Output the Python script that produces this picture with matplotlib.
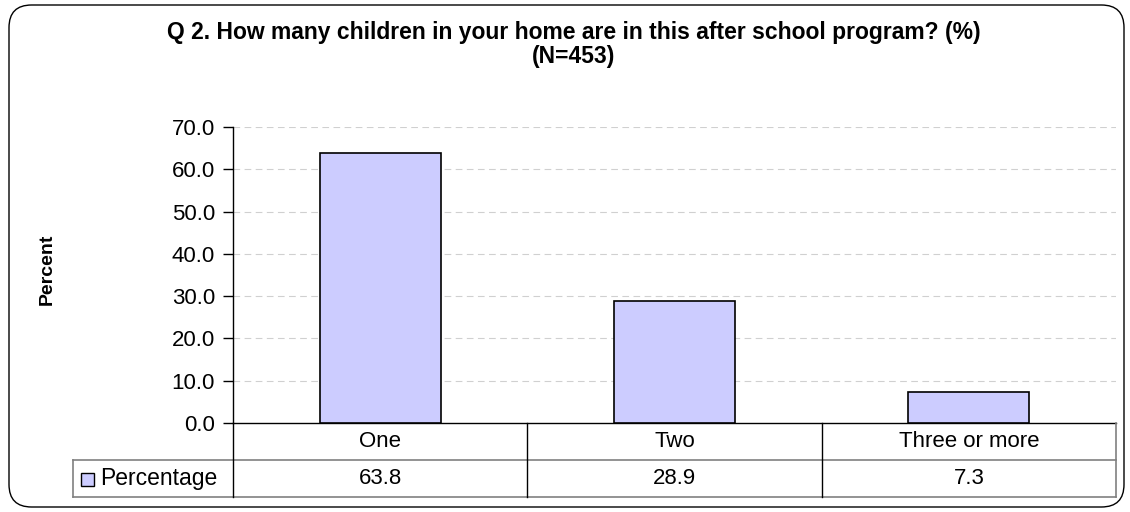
import numpy as np
import matplotlib.pyplot as plt
from matplotlib.patches import FancyBboxPatch, Rectangle

categories = ["One", "Two", "Three or more"]
percentage = [63.8, 28.9, 7.3]
series_name = "Percentage"
yticks = [0, 10, 20, 30, 40, 50, 60, 70]

bar_color = "#CCCCFF"
W, H = 1130, 512

fig = plt.figure(figsize=(W / 100, H / 100), dpi=100)
plt.rcParams['font.family'] = ['Liberation Sans', 'DejaVu Sans']

# rounded outer frame
frame = FancyBboxPatch((9 / W, 5 / H), 1115 / W, 502 / H,
                       boxstyle="round,pad=0,rounding_size=0.02",
                       transform=fig.transFigure, fill=False,
                       edgecolor="black", linewidth=1.0,
                       mutation_aspect=W / H)
fig.patches.append(frame)

left, right = 233 / W, 1116 / W
bottom, top = 1 - 423 / H, 1 - 127 / H
ax = fig.add_axes([left, bottom, right - left, top - bottom])

x = np.arange(len(categories))
ax.bar(x, percentage, width=0.41, color=bar_color, edgecolor="black",
       linewidth=1.2, zorder=3)

ax.set_xlim(-0.5, len(categories) - 0.5)
ax.set_ylim(0, 70)
ax.set_yticks(yticks)
ax.set_yticklabels([f"{v:.1f}" for v in yticks], fontsize=16)
ax.tick_params(axis='y', direction='out', length=7, width=1, pad=6)
ax.set_xticks([])
for v in yticks[1:]:
    ax.axhline(v, color="#D0D0D0", linestyle=(0, (6, 4)), linewidth=0.8,
               zorder=1)

for s in ["top", "right"]:
    ax.spines[s].set_visible(False)
ax.spines["left"].set_linewidth(1.0)
ax.spines["bottom"].set_linewidth(1.0)

ax.set_ylabel("Percent", fontsize=14, fontweight="bold", labelpad=0)
ax.yaxis.set_label_coords(-(233 - 56) / (1116 - 233), 0.52)

fig.text(574 / W, 1 - 33 / H,
         "Q 2. How many children in your home are in this after school program? (%)",
         ha="center", va="center", fontsize=16.5, fontweight="bold")
fig.text(574 / W, 1 - 56 / H, "(N=453)",
         ha="center", va="center", fontsize=16.5, fontweight="bold")

# data table below the axis
def fx(px):
    return px / W

def fy(py):
    return 1 - py / H

row1_top, row1_bot, row2_bot = 423, 460, 497
cell_w = (1116 - 233) / len(categories)
tbl_left = 73

# horizontal lines
fig.add_artist(plt.Line2D([fx(tbl_left), fx(1116)], [fy(row1_bot)] * 2,
                          color="#808080", linewidth=1.2))
fig.add_artist(plt.Line2D([fx(tbl_left), fx(1116)], [fy(row2_bot)] * 2,
                          color="#808080", linewidth=1.2))
fig.add_artist(plt.Line2D([fx(1116), fx(1116)], [fy(row1_top), fy(row2_bot)],
                          color="#808080", linewidth=1.2))
fig.add_artist(plt.Line2D([fx(tbl_left), fx(tbl_left)], [fy(row1_bot), fy(row2_bot)],
                          color="#808080", linewidth=1.2))
# vertical lines
for i in range(len(categories)):
    xp = 233 + i * cell_w
    fig.add_artist(plt.Line2D([fx(xp), fx(xp)], [fy(row1_top), fy(row2_bot)],
                              color="black", linewidth=1.0))

for i, (c, v) in enumerate(zip(categories, percentage)):
    cx = 233 + (i + 0.5) * cell_w
    fig.text(fx(cx), fy((row1_top + row1_bot) / 2), c, ha="center",
             va="center", fontsize=16)
    fig.text(fx(cx), fy((row1_bot + row2_bot) / 2), f"{v:.1f}", ha="center",
             va="center", fontsize=16)

# legend key in table
fig.add_artist(Rectangle((fx(81), fy(486)), 13 / W, 13 / H,
                         transform=fig.transFigure, facecolor=bar_color,
                         edgecolor="black", linewidth=1.0))
fig.text(fx(100), fy((row1_bot + row2_bot) / 2), series_name, ha="left",
         va="center", fontsize=16.5)

fig.savefig("out.png", dpi=100)
